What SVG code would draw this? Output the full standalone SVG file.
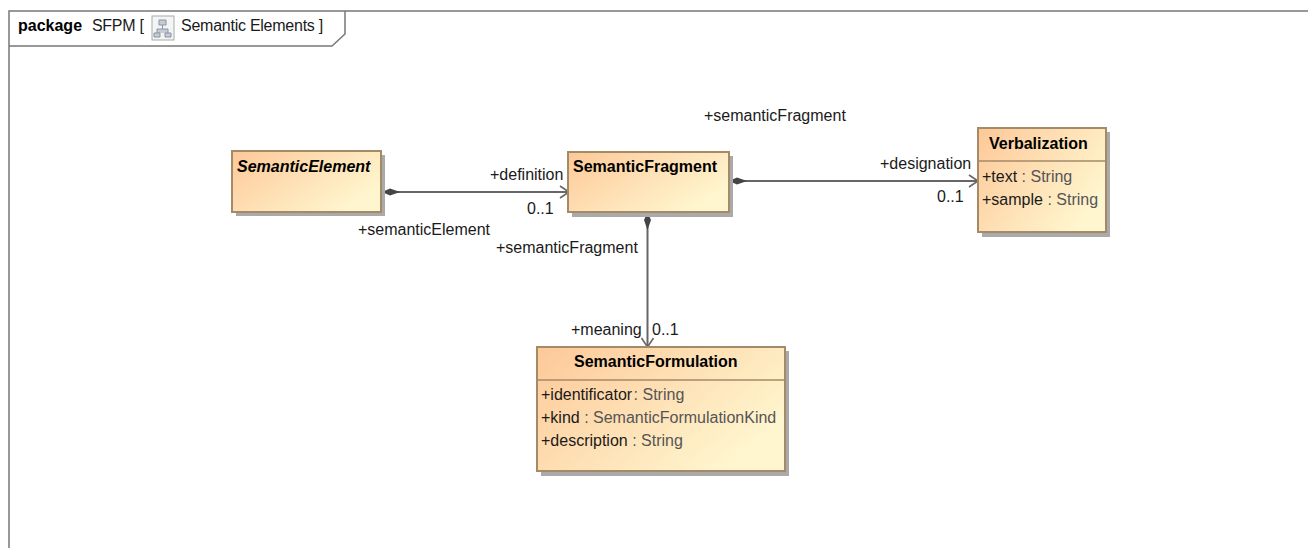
<svg xmlns="http://www.w3.org/2000/svg" width="1308" height="548" viewBox="0 0 1308 548">
<style>
text{font-family:"Liberation Sans",Arial,sans-serif;font-size:16px;fill:#1a1a1a}
.b{font-weight:bold;fill:#000}
.g{fill:#555}
.box{fill:url(#grad);stroke:#a58a68;stroke-width:2}
.shadow{fill:#aaa}
.sep{stroke:#a58a68;stroke-width:1.5;fill:none}
.line{stroke:#666;stroke-width:2;fill:none}
.frame{stroke:#777;stroke-width:1.5;fill:none}
</style>
<defs>
<linearGradient id="grad" x1="0" y1="0" x2="1" y2="0.6">
<stop offset="0" stop-color="#fdc898"/>
<stop offset="1" stop-color="#fff6cf"/>
</linearGradient>
<marker id="open" markerWidth="12" markerHeight="14" refX="10" refY="7" orient="auto" markerUnits="userSpaceOnUse">
<path d="M1 1L10 7L1 13" fill="none" stroke="#666" stroke-width="1.6"/>
</marker>
<marker id="dia" markerWidth="20" markerHeight="10" refX="1" refY="5" orient="auto" markerUnits="userSpaceOnUse">
<path d="M1 5L9 1.5L19 5L9 8.5Z" fill="#444"/>
</marker>
</defs>
<g id="frame">
<path class="frame" d="M9 548V11H1308"/>
<path class="frame" d="M9 46H332L345 34V11"/>
<text class="b" x="18" y="31">package</text>
<text x="92" y="31" style="letter-spacing:-.3px">SFPM [</text>
<g id="diagram-icon">
<rect x="152" y="16" width="22" height="24" fill="#f4f4f4" stroke="#aaa"/>
<path d="M159 20h7v5h-7zM154 33h6v4h-6zM165 33h6v4h-6zM162.500 25v4M157 33v-4h11v4" fill="#c5ccd6" stroke="#8a93a0" stroke-width="1"/>
</g>
<text x="181" y="31" style="letter-spacing:-.25px">Semantic Elements ]</text>
</g>
<g id="connectors">
<path class="line" d="M382 192H569" marker-start="url(#dia)" marker-end="url(#open)"/>
<path class="line" d="M729 181H978" marker-start="url(#dia)" marker-end="url(#open)"/>
<path class="line" d="M647.500 212V347" marker-start="url(#dia)" marker-end="url(#open)"/>
<text x="358" y="235">+semanticElement</text>
<text x="490" y="180">+definition</text>
<text x="527" y="214">0..1</text>
<text x="704" y="121">+semanticFragment</text>
<text x="880" y="169">+designation</text>
<text x="937" y="202">0..1</text>
<text x="496" y="253">+semanticFragment</text>
<text x="571" y="335">+meaning</text>
<text x="652" y="335">0..1</text>
</g>
<g id="SemanticElement">
<rect class="shadow" x="236" y="155" width="149" height="61"/>
<rect class="box" x="232" y="151" width="149" height="61"/>
<text class="b" x="237" y="172" font-style="italic">SemanticElement</text>
</g>
<g id="SemanticFragment">
<rect class="shadow" x="572" y="156" width="161" height="61"/>
<rect class="box" x="568" y="152" width="161" height="60"/>
<text class="b" x="573" y="172">SemanticFragment</text>
</g>
<g id="Verbalization">
<rect class="shadow" x="982" y="132" width="128" height="105"/>
<rect class="box" x="978" y="128" width="128" height="104"/>
<path class="sep" d="M978 161H1106"/>
<text class="b" x="989" y="149">Verbalization</text>
<text x="982" y="182">+text <tspan class="g">: String</tspan></text>
<text x="982" y="205">+sample <tspan class="g">: String</tspan></text>
</g>
<g id="SemanticFormulation">
<rect class="shadow" x="541" y="351" width="248" height="125"/>
<rect class="box" x="537" y="347" width="248" height="124"/>
<path class="sep" d="M537 380H785"/>
<text class="b" x="574" y="367">SemanticFormulation</text>
<text x="541" y="400">+identificator <tspan class="g" dx="-3">: String</tspan></text>
<text x="541" y="423">+kind <tspan class="g">: SemanticFormulationKind</tspan></text>
<text x="541" y="446">+description <tspan class="g">: String</tspan></text>
</g>
</svg>
